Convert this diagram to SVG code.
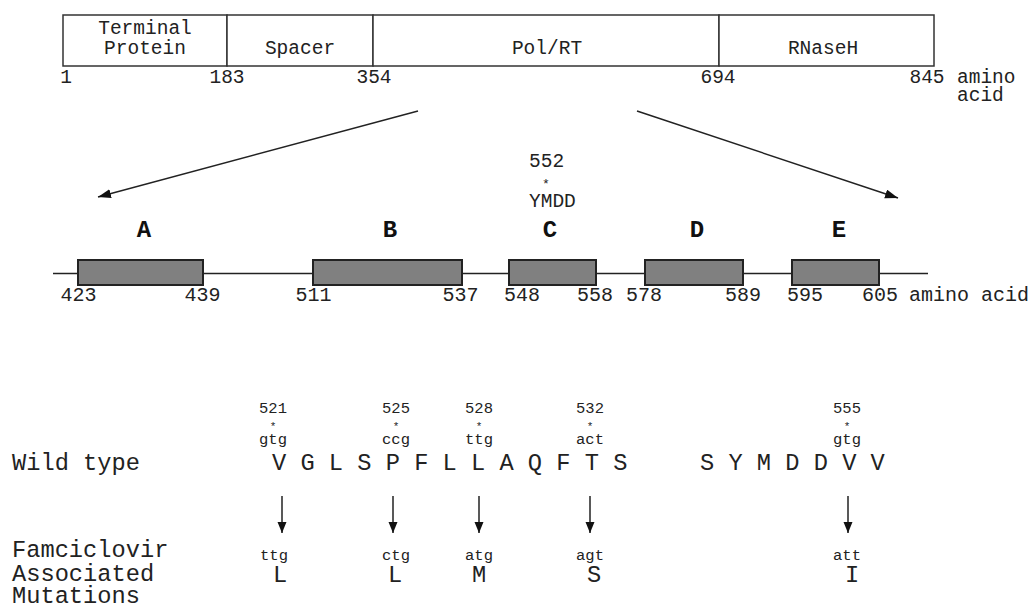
<svg xmlns="http://www.w3.org/2000/svg" width="1033" height="608" viewBox="0 0 1033 608">
<defs>
<style>
.t{font-family:"Liberation Mono","Courier New",monospace;fill:#222}
.m{text-anchor:middle}
.f19{font-size:19.5px}
.f20{font-size:20px}
.f15{font-size:15.5px}
.st{font-size:11px}
.st2{font-size:13px}
.f23{font-size:23.7px}
.b{font-size:24px;font-weight:bold;fill:#111}
.seg{fill:#fff;stroke:#333;stroke-width:1.5}
.dom{fill:#808080;stroke:#222;stroke-width:2}
.ln{stroke:#222;stroke-width:1.5;fill:none}
</style>
<marker id="ah" markerUnits="userSpaceOnUse" markerWidth="14" markerHeight="10" refX="13" refY="4.5" orient="auto">
<path d="M0,0 L13,4.5 L0,9 z" fill="#111"/>
</marker>
<marker id="ah2" markerUnits="userSpaceOnUse" markerWidth="12" markerHeight="10" refX="11" refY="4.5" orient="auto">
<path d="M0,0 L11,4.5 L0,9 z" fill="#111"/>
</marker>
</defs>
<rect width="1033" height="608" fill="#fff"/>

<g id="protein-map">
<g id="seg-tp"><rect class="seg" x="63" y="15" width="164" height="51"/>
<text class="t f19 m"><tspan x="145" y="34">Terminal</tspan><tspan x="145" y="54">Protein</tspan></text></g>
<g id="seg-spacer"><rect class="seg" x="227" y="15" width="146" height="51"/>
<text class="t f19 m" x="300" y="54">Spacer</text></g>
<g id="seg-pol"><rect class="seg" x="373" y="15" width="346" height="51"/>
<text class="t f19 m" x="547" y="54">Pol/RT</text></g>
<g id="seg-rnaseh"><rect class="seg" x="719" y="15" width="215" height="51"/>
<text class="t f19 m" x="823" y="54">RNaseH</text></g>
<g id="map-scale">
<text class="t f19 m" x="66" y="83">1</text>
<text class="t f19 m" x="227" y="83">183</text>
<text class="t f19 m" x="374" y="83">354</text>
<text class="t f19 m" x="718" y="83">694</text>
<text class="t f19 m" x="927" y="83">845</text>
<text class="t f19"><tspan x="957" y="83">amino</tspan><tspan x="957" y="101">acid</tspan></text>
</g>
</g>

<g id="connectors">
<line class="ln" x1="418" y1="111" x2="98" y2="197" marker-end="url(#ah)"/>
<line class="ln" x1="637" y1="111" x2="898" y2="198" marker-end="url(#ah)"/>
<line class="ln" x1="282" y1="496" x2="282" y2="533" marker-end="url(#ah2)"/>
<line class="ln" x1="393" y1="496" x2="393" y2="533" marker-end="url(#ah2)"/>
<line class="ln" x1="479" y1="496" x2="479" y2="533" marker-end="url(#ah2)"/>
<line class="ln" x1="590" y1="496" x2="590" y2="533" marker-end="url(#ah2)"/>
<line class="ln" x1="848" y1="496" x2="848" y2="533" marker-end="url(#ah2)"/>
</g>

<g id="domain-line">
<line class="ln" x1="53" y1="273.5" x2="928" y2="273.5"/>
</g>
<g id="ymdd">
<text class="t f19"><tspan x="529" y="167">552</tspan><tspan class="st2" x="542" y="188">*</tspan><tspan x="529" y="207">YMDD</tspan></text>
</g>
<g id="domain-A"><text class="t b m" x="144" y="237">A</text><rect class="dom" x="78" y="260" width="125" height="25"/></g>
<g id="domain-B"><text class="t b m" x="390" y="237">B</text><rect class="dom" x="313" y="260" width="149" height="25"/></g>
<g id="domain-C"><text class="t b m" x="550" y="237">C</text><rect class="dom" x="509" y="260" width="87" height="25"/></g>
<g id="domain-D"><text class="t b m" x="697" y="237">D</text><rect class="dom" x="645" y="260" width="98" height="25"/></g>
<g id="domain-E"><text class="t b m" x="839" y="237">E</text><rect class="dom" x="792" y="260" width="87" height="25"/></g>
<g id="domain-scale">
<text class="t f20 m" x="78.5" y="301">423</text>
<text class="t f20 m" x="202.5" y="301">439</text>
<text class="t f20 m" x="313.5" y="301">511</text>
<text class="t f20 m" x="460.5" y="301">537</text>
<text class="t f20 m" x="522" y="301">548</text>
<text class="t f20 m" x="595" y="301">558</text>
<text class="t f20 m" x="644" y="301">578</text>
<text class="t f20 m" x="743" y="301">589</text>
<text class="t f20 m" x="805" y="301">595</text>
<text class="t f20 m" x="880" y="301">605</text>
<text class="t f20" x="909" y="301">amino acid</text>
</g>

<g id="wild-type">
<text class="t f23" x="12" y="470">Wild type</text>
<text class="t f23" x="272" y="470">V G L S P F L L A Q F T S</text>
<text class="t f23" x="700" y="470">S Y M D D V V</text>
<text class="t f15 m"><tspan x="273" y="413">521</tspan><tspan class="st" x="273" y="430">*</tspan><tspan x="273" y="444">gtg</tspan></text>
<text class="t f15 m"><tspan x="396" y="413">525</tspan><tspan class="st" x="396" y="430">*</tspan><tspan x="396" y="444">ccg</tspan></text>
<text class="t f15 m"><tspan x="479" y="413">528</tspan><tspan class="st" x="479" y="430">*</tspan><tspan x="479" y="444">ttg</tspan></text>
<text class="t f15 m"><tspan x="590" y="413">532</tspan><tspan class="st" x="590" y="430">*</tspan><tspan x="590" y="444">act</tspan></text>
<text class="t f15 m"><tspan x="847" y="413">555</tspan><tspan class="st" x="847" y="430">*</tspan><tspan x="847" y="444">gtg</tspan></text>
</g>

<g id="mutations">
<text class="t f23"><tspan x="12" y="557">Famciclovir</tspan><tspan x="12" y="581">Associated</tspan><tspan x="12" y="603">Mutations</tspan></text>
<text class="t f15 m" x="274" y="560">ttg</text><text class="t f23 m" x="280" y="582">L</text>
<text class="t f15 m" x="396" y="560">ctg</text><text class="t f23 m" x="395" y="582">L</text>
<text class="t f15 m" x="479" y="560">atg</text><text class="t f23 m" x="479" y="582">M</text>
<text class="t f15 m" x="590" y="560">agt</text><text class="t f23 m" x="594" y="582">S</text>
<text class="t f15 m" x="847" y="560">att</text><text class="t f23 m" x="852" y="582">I</text>
</g>
</svg>
